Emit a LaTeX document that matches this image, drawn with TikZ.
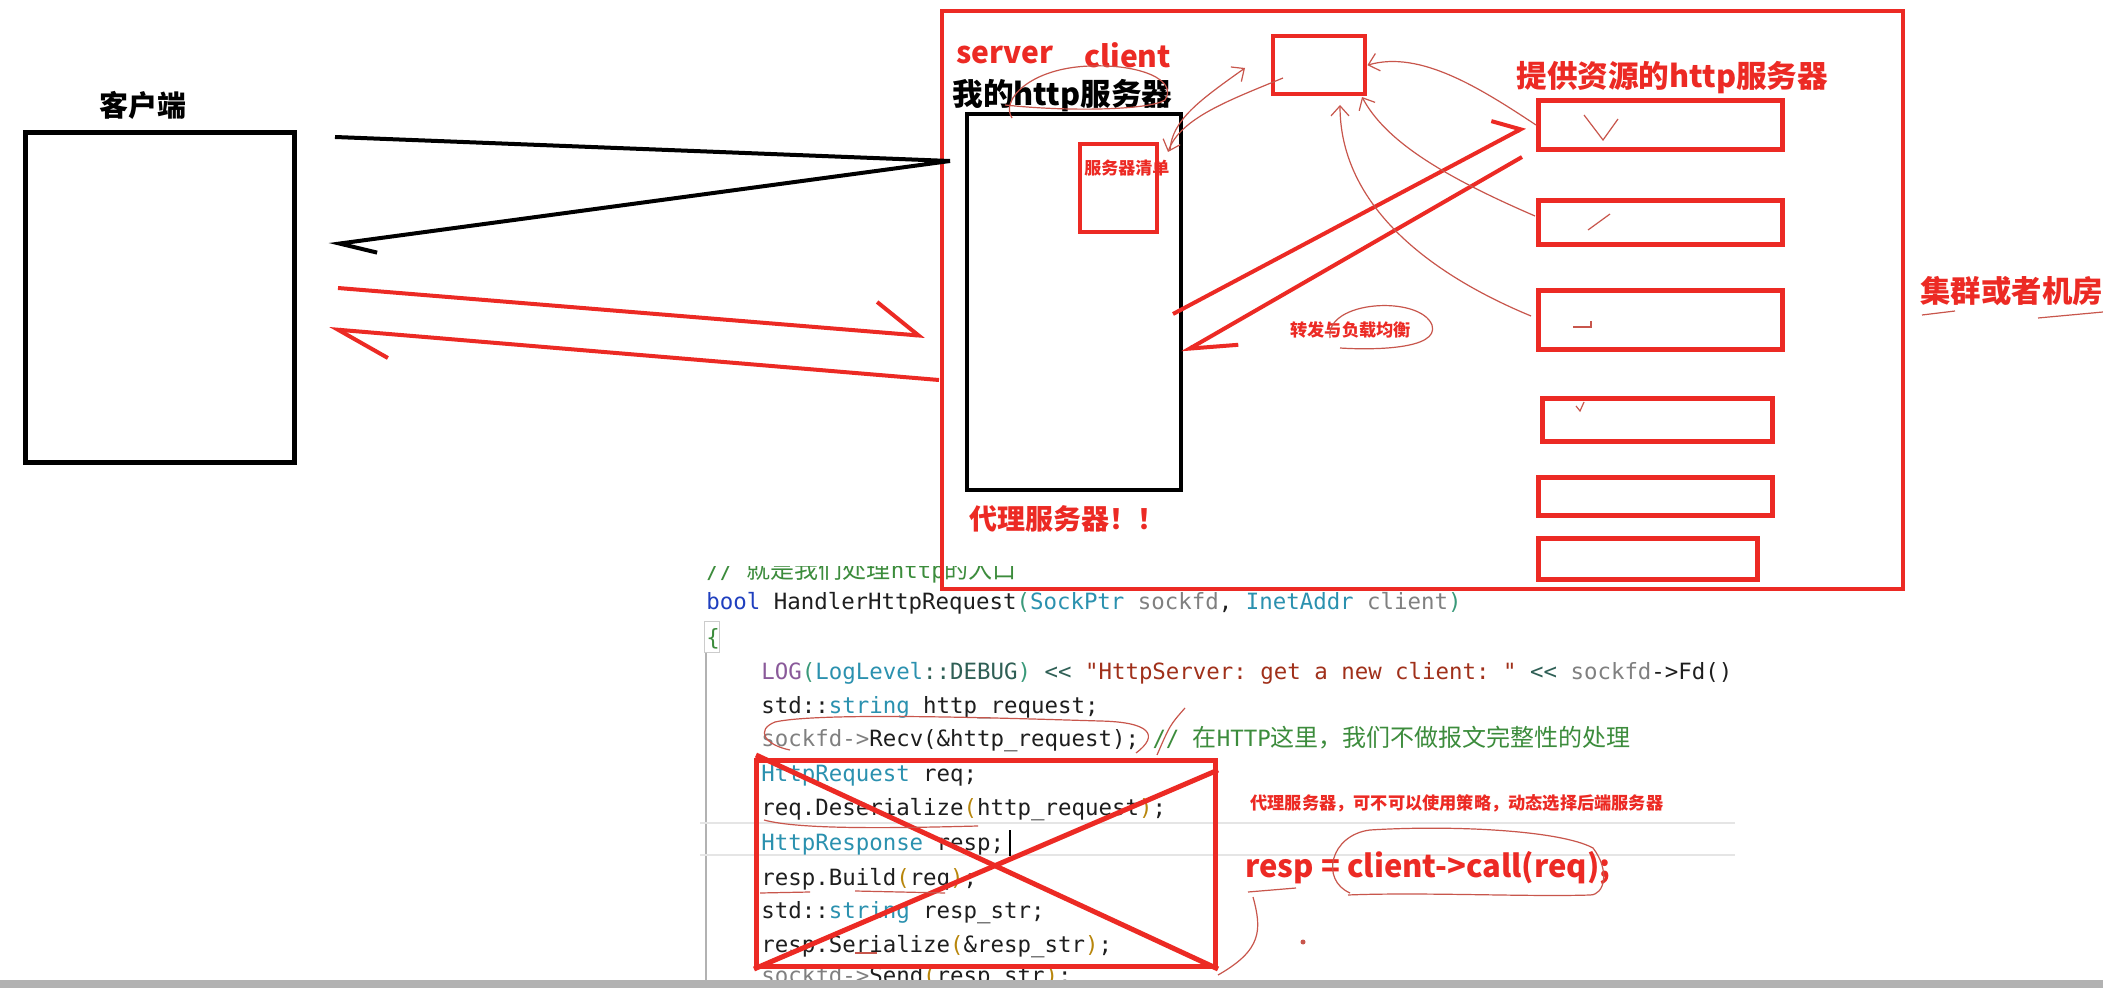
\documentclass[tikz,border=0pt]{standalone}
\usepackage{fontspec}
\usepackage{tikz}
\usetikzlibrary{arrows.meta,calc}
\newfontfamily\cjk{Noto Sans CJK SC}
\newfontfamily\codefont{DejaVu Sans Mono}
\definecolor{PaintRed}{HTML}{EC2A24}
\definecolor{InkRed}{HTML}{C8564C}
\definecolor{CodeInk}{HTML}{1E1E1E}
\definecolor{CodeKw}{HTML}{1F3FBF}
\definecolor{CodeType}{HTML}{2B91AF}
\definecolor{CodeMac}{HTML}{8A5A9A}
\definecolor{CodeStr}{HTML}{A0301A}
\definecolor{CodeParam}{HTML}{808080}
\definecolor{CodeCmt}{HTML}{3C8C3C}
\definecolor{CodeEnum}{HTML}{2F5F55}
\definecolor{CodeBr}{HTML}{3A9A7A}
\definecolor{CodeBrTwo}{HTML}{B8860B}
\newcommand{\cKw}[1]{\textcolor{CodeKw}{#1}}
\newcommand{\cTy}[1]{\textcolor{CodeType}{#1}}
\newcommand{\cMac}[1]{\textcolor{CodeMac}{#1}}
\newcommand{\cStr}[1]{\textcolor{CodeStr}{#1}}
\newcommand{\cPar}[1]{\textcolor{CodeParam}{#1}}
\newcommand{\cCm}[1]{\textcolor{CodeCmt}{#1}}
\newcommand{\cEn}[1]{\textcolor{CodeEnum}{#1}}
\newcommand{\cBr}[1]{\textcolor{CodeBr}{#1}}
\newcommand{\cBrT}[1]{\textcolor{CodeBrTwo}{#1}}
\newcommand{\codezh}[1]{{\cjk\fontsize{12pt}{13pt}\selectfont #1}}
\tikzset{
  box/.style={draw, line width=2.2pt, anchor=north west, inner sep=0pt},
  redbox/.style={box, draw=PaintRed},
  lbl/.style={inner sep=0pt, anchor=west, font=\cjk\bfseries\fontsize{#1}{#1}\selectfont},
  code/.style={inner sep=0pt, anchor=base west, text=CodeInk, font=\codefont\fontsize{11.2pt}{13pt}\selectfont\frenchspacing},
  hand/.style={draw=InkRed, line width=0.6pt},
  handarrow/.style={hand, -{Straight Barb[length=5pt,width=9pt]}}
}
\begin{document}
\begin{tikzpicture}[x=0.5pt,y=-0.5pt,>=Latex]
  \useasboundingbox[fill=white] (0,0) rectangle (2103,988);

  % client
  \node[lbl=14.5pt, anchor=center] (clientlbl) at (143,105) {客户端};
  \node[box, line width=2.5pt, minimum width=134.5pt, minimum height=165pt] (client) at (23,130) {};

  % code pane
  \begin{scope}
    \clip (700,566) rectangle (1735,980);
    \draw[gray!60, line width=0.6pt] (706,653) -- (706,980);
    \draw[gray!20, line width=0.6pt] (700,823) -- (1735,823);
    \draw[gray!20, line width=0.6pt] (700,855) -- (1735,855);
    \node[code] (lcmt) at (706,578) {\cCm{// \codezh{就是我们处理}http\codezh{的入口}}};
    \node[code] (lsig) at (706,610) {\cKw{bool} HandlerHttpRequest\cBr{(}\cTy{SockPtr} \cPar{sockfd}, \cTy{InetAddr} \cPar{client}\cBr{)}};
    \node[code] (lopen) at (706,645) {\cCm{\{}};
    \node[code] (llog) at (761,679) {\cMac{LOG}\cBr{(}\cTy{LogLevel}\cEn{::DEBUG}\cBr{)} \cEn{<<} \cStr{"HttpServer: get a new client: "} \cEn{<<} \cPar{sockfd}->Fd() \cEn{<<}};
    \node[code] (lstr) at (761,713) {std::\cTy{string} http\_request;};
    \node[code] (lrecv) at (761,746) {\cPar{sockfd->}Recv(\&http\_request); \cCm{// \codezh{在}HTTP\codezh{这里，我们不做报文完整性的处理}}};
    \node[code] (lreq) at (761,781) {\cTy{HttpRequest} req;};
    \node[code] (ldes) at (761,815) {req.Deserialize\cBrT{(}http\_request\cBrT{)};};
    \node[code] (lresp) at (761,850) {\cTy{HttpResponse} resp;};
    \node[code] (lbuild) at (761,885) {resp.Build\cBrT{(}req\cBrT{)};};
    \node[code] (lrstr) at (761,918) {std::\cTy{string} resp\_str;};
    \node[code] (lser) at (761,952) {resp.Serialize\cBrT{(}\&resp\_str\cBrT{)};};
    \node[code] (lsend) at (761,983) {\cPar{sockfd->}Send\cBrT{(}resp\_str\cBrT{)};};
  \end{scope}
  \draw[gray!40, line width=0.5pt] (704,621) rectangle (719,652);
  \draw[line width=0.8pt] (1010,830) -- (1010,856);
  \fill[gray!60] (0,980) rectangle (2103,988);

  % cluster frame
  \node[redbox, line width=2pt, minimum width=480.5pt, minimum height=289pt] (room) at (940,9) {};
  \node[lbl=15pt, text=PaintRed] (srvword) at (956,55) {server};
  \node[lbl=15pt, text=PaintRed] (cliword) at (1084,55) {client};
  \node[lbl=15.3pt] (myhttp) at (952,96) {我的http服务器};
  \node[box, minimum width=107pt, minimum height=188pt] (proxy) at (965,112) {};
  \node[redbox, minimum width=38.5pt, minimum height=44pt] (list) at (1078,142) {};
  \node[lbl=8.5pt, text=PaintRed] (listlbl) at (1084,168) {服务器清单};
  \node[lbl=14pt, text=PaintRed] (proxylbl) at (969,519) {代理服务器！！};
  \node[redbox, minimum width=46pt, minimum height=29pt] (reg) at (1271,34) {};
  \node[lbl=15.3pt, text=PaintRed] (srclbl) at (1516,78) {提供资源的http服务器};
  \node[lbl=15.2pt, text=PaintRed] (roomlbl) at (1920,291) {集群或者机房};

  \node[redbox, line width=2.5pt, minimum width=122pt, minimum height=24.5pt] (s1) at (1536,98) {};
  \node[redbox, line width=2.5pt, minimum width=122pt, minimum height=22pt] (s2) at (1536,198) {};
  \node[redbox, line width=2.5pt, minimum width=122pt, minimum height=29.5pt] (s3) at (1536,288) {};
  \node[redbox, line width=2.5pt, minimum width=115pt, minimum height=21.5pt] (s4) at (1540,396) {};
  \node[redbox, line width=2.5pt, minimum width=117pt, minimum height=19pt] (s5) at (1536,475) {};
  \node[redbox, line width=2.5pt, minimum width=109.5pt, minimum height=20.5pt] (s6) at (1536,536) {};

  % client <-> proxy
  \coordinate (askA) at (335,137);
  \coordinate (askB) at (950,161);
  \coordinate (askC) at (329,245);
  \draw[line width=2pt, -{Straight Barb[harpoon, length=18pt, width=14pt]}] (askA) -- (askB) -- (askC);
  \coordinate (fwdA) at (338,288);
  \coordinate (fwdB) at (925,336);
  \coordinate (backA) at (939,380);
  \coordinate (backB) at (329,329);
  \draw[PaintRed, line width=2pt, -{Straight Barb[harpoon, length=22pt, width=30pt]}] (fwdA) -- (fwdB);
  \draw[PaintRed, line width=2pt, -{Straight Barb[harpoon, length=26pt, width=24pt]}] (backA) -- (backB);

  % proxy <-> servers
  \coordinate (lbA) at (1173,314);
  \coordinate (lbB) at (1525,127);
  \coordinate (lbC) at (1522,157);
  \coordinate (lbD) at (1182,353);
  \draw[PaintRed, line width=2pt, -{Straight Barb[harpoon, length=11pt, width=21pt]}] (lbA) -- (lbB);
  \draw[PaintRed, line width=2pt, -{Straight Barb[harpoon, length=22pt, width=21pt]}] (lbC) -- (lbD);
  \node[lbl=8.6pt, text=PaintRed] (lblb) at (1290,330) {转发与负载均衡};

  % registry scribbles
  \draw[handarrow] (1170,150) .. controls (1172,120) and (1200,100) .. (1245,68);
  \draw[handarrow] (1283,78) .. controls (1230,100) and (1180,118) .. (1168,152);
  \draw[handarrow] (s1.west) .. controls (1480,88) and (1420,50) .. (reg.east);
  \draw[handarrow] (1535,216) .. controls (1440,175) and (1385,140) .. (1362,97);
  \draw[handarrow] (1531,316) .. controls (1420,270) and (1340,200) .. (1340,105);
  \draw[hand] (1012,118) .. controls (1000,100) and (1030,68) .. (1090,66)
    .. controls (1140,64) and (1178,80) .. (1165,100) .. controls (1150,110) and (1070,112) .. (1005,105);
  \draw[hand] (1330,338) .. controls (1325,300) and (1420,295) .. (1432,325)
    .. controls (1440,350) and (1370,350) .. (1340,348);
  \draw[hand] (1922,315) -- (1955,311);
  \draw[hand] (2038,318) -- (2103,312);
  \draw[hand] (1584,115) -- (1603,140) -- (1618,119);
  \draw[hand] (1588,230) -- (1610,214);
  \draw[hand] (1573,327) -- (1591,327) -- (1591,321);
  \draw[hand] (1576,406) -- (1580,411) -- (1584,402);

  % crossed-out code
  \node[redbox, line width=2.5pt, minimum width=229.5pt, minimum height=103pt] (cross) at (754,758) {};
  \draw[PaintRed, line width=2.5pt] ($(cross.north west)+(2,-3)$) -- (cross.south east);
  \draw[PaintRed, line width=2.5pt] (cross.south west) -- ($(cross.north east)+(0,12)$);
  \draw[hand] (1136,753) .. controls (1160,735) and (1150,722) .. (1100,721)
    .. controls (1000,718) and (820,712) .. (775,722) .. controls (755,730) and (765,745) .. (790,750);
  \draw[hand] (1185,708) .. controls (1170,725) .. (1157,755);
  \draw[hand] (764,820) .. controls (800,830) and (900,828) .. (978,826);
  \draw[hand] (760,893) -- (810,892);
  \draw[hand] (855,891) -- (945,893);
  \draw[hand] (855,953) -- (877,953);

  % note and replacement
  \node[lbl=8.6pt, text=PaintRed] (note) at (1250,803) {代理服务器，可不可以使用策略，动态选择后端服务器};
  \node[lbl=15.5pt, text=PaintRed] (call) at (1245,868) {resp = client->call(req);};
  \draw[hand] (1350,893) .. controls (1320,880) and (1330,835) .. (1370,830)
    .. controls (1450,825) and (1560,830) .. (1593,848) .. controls (1610,870) and (1605,895) .. (1590,895)
    .. controls (1530,897) and (1420,892) .. (1348,895);
  \draw[hand] (1248,892) -- (1296,888);
  \draw[hand] (1253,897) .. controls (1262,930) and (1262,950) .. (1218,975);
  \fill[InkRed] (1303,942) circle[radius=2.5];
\end{tikzpicture}
\end{document}
